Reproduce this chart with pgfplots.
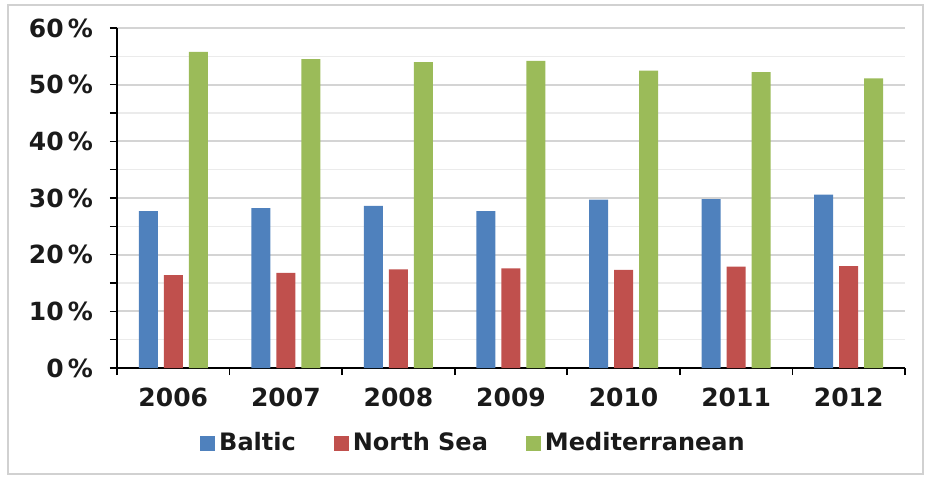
\documentclass[border=0pt]{standalone}
\usepackage{pgfplots}
\pgfplotsset{compat=1.18}
\usepackage{fontspec}
\setmainfont{DejaVu Sans}
\definecolor{cBlue}{HTML}{4F81BD}
\definecolor{cRed}{HTML}{C0504D}
\definecolor{cGreen}{HTML}{9BBB59}
\definecolor{txt}{HTML}{1A1A1A}
\begin{document}
\begin{tikzpicture}
\path[use as bounding box] (0,0) rectangle (466.5pt,238.5pt);
\draw[black!18, line width=1pt] (4pt,1.5pt) rectangle (461.5pt,236pt);
\begin{axis}[
  at={(58.5pt,54.5pt)}, anchor=south west,
  scale only axis, width=394pt, height=170pt,
  ybar=3pt, bar width=9.5pt,
  xmin=-0.5, xmax=6.5, ymin=0, ymax=60,
  axis lines=left, axis line style={-, black, line width=0.8pt},
  xtick={0,...,6},
  xticklabels={2006,2007,2008,2009,2010,2011,2012},
  major x tick style={draw=none},
  minor xtick={-0.5,0.5,1.5,2.5,3.5,4.5,5.5,6.5},
  ytick={0,10,...,60},
  minor ytick={5,15,...,55},
  tick align=outside,
  major tick length=3.5pt, minor tick length=3.5pt,
  tick style={black, line width=0.8pt},
  ymajorgrids, yminorgrids,
  major grid style={black!17, line width=0.9pt},
  minor grid style={black!8, line width=0.7pt},
  yticklabel={\pgfmathprintnumber{\tick}\,\%},
  /pgf/number format/assume math mode=true,
  tick label style={font=\bfseries\fontsize{12.5}{14}\selectfont, text=txt},
  yticklabel style={xshift=-5pt},
  xticklabel style={yshift=-3pt},
  legend style={at={(0.4537,-0.2206)}, anchor=center, draw=none, fill=none,
    legend columns=-1, font=\bfseries\fontsize{12}{14}\selectfont, text=txt,
    /tikz/every even column/.append style={column sep=17pt}},
  legend image code/.code={\fill[#1, draw=none] (0pt,-3.75pt) rectangle (7.5pt,3.75pt);},
]
\addplot[fill=cBlue, draw=none] coordinates {(0,27.7) (1,28.2) (2,28.6) (3,27.7) (4,29.7) (5,29.8) (6,30.6)};
\addplot[fill=cRed, draw=none] coordinates {(0,16.4) (1,16.8) (2,17.4) (3,17.6) (4,17.3) (5,17.9) (6,18.0)};
\addplot[fill=cGreen, draw=none] coordinates {(0,55.8) (1,54.5) (2,54.0) (3,54.2) (4,52.5) (5,52.2) (6,51.1)};
\legend{Baltic,North Sea,Mediterranean}
\end{axis}
\end{tikzpicture}
\end{document}
